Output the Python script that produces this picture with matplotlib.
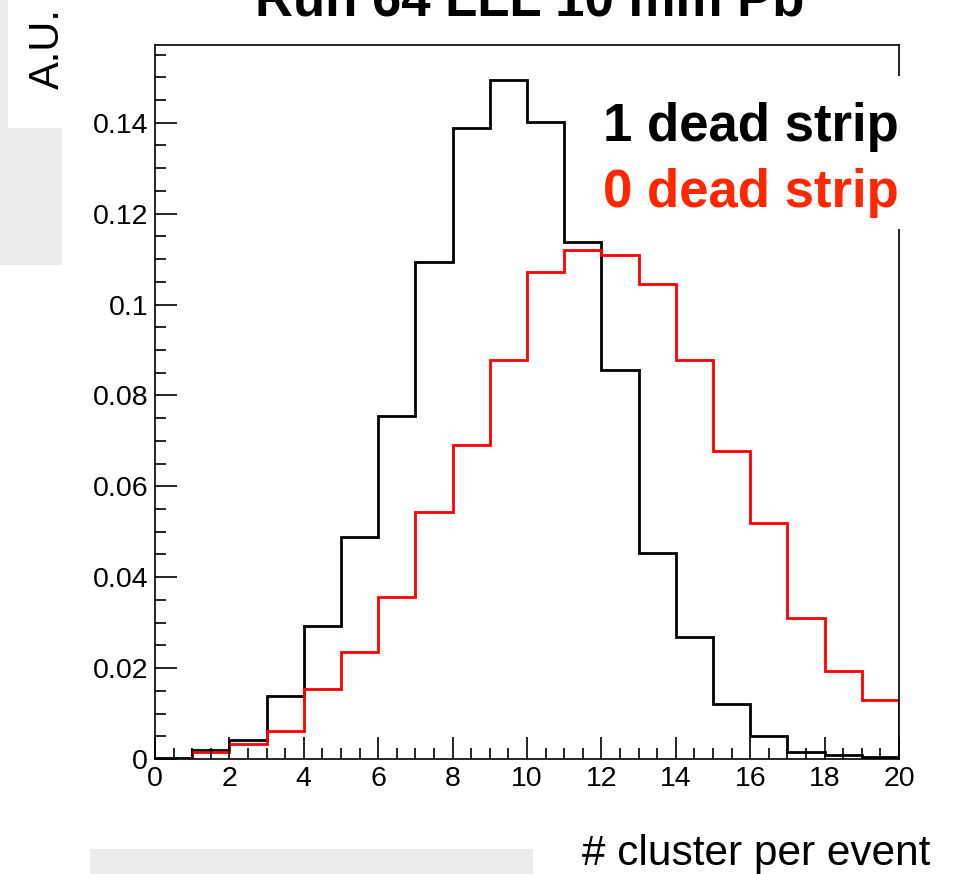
import numpy as np
import matplotlib
matplotlib.use("Agg")
import matplotlib.pyplot as plt
from matplotlib.patches import Rectangle
from matplotlib.ticker import MultipleLocator, FuncFormatter

# ---- data ----
bin_edges = list(range(0, 21))
one_dead = [0.0002, 0.0020, 0.0041, 0.0139, 0.0293, 0.0488, 0.0755, 0.1094, 0.1388, 0.1494,
            0.1402, 0.1137, 0.0856, 0.0453, 0.0268, 0.0121, 0.0051, 0.0016, 0.0008, 0.0004]
zero_dead = [0.0001, 0.0016, 0.0033, 0.0061, 0.0155, 0.0235, 0.0356, 0.0543, 0.0691, 0.0878,
             0.1071, 0.1119, 0.1110, 0.1046, 0.0878, 0.0678, 0.0519, 0.0310, 0.0194, 0.0129]
labels = ["1 dead strip", "0 dead strip"]
title = "Run 64 LLL 10 mm Pb"
xlabel = "# cluster per event"
ylabel = "A.U."

plt.rcParams['font.family'] = ['Liberation Sans', 'DejaVu Sans']

W, H = 966, 874
fig = plt.figure(figsize=(W / 100, H / 100), dpi=100)
fig.patch.set_facecolor('white')

# background decorations (gray blocks)
gray = '#ebebeb'
fig.patches.append(Rectangle((0, 1 - 128 / H), 8 / W, 128 / H, transform=fig.transFigure,
                             facecolor=gray, edgecolor='none', zorder=0))
fig.patches.append(Rectangle((0, 1 - 265 / H), 62 / W, 137 / H, transform=fig.transFigure,
                             facecolor=gray, edgecolor='none', zorder=0))
fig.patches.append(Rectangle((90 / W, 0), 443 / W, 25 / H, transform=fig.transFigure,
                             facecolor=gray, edgecolor='none', zorder=0))

left, right, top, bottom = 155, 899, 45, 759
ax = fig.add_axes([left / W, 1 - bottom / H, (right - left) / W, (bottom - top) / H])
ax.set_facecolor('none')

ax.stairs(one_dead, bin_edges, color='black', linewidth=2.0, baseline=0)
ax.stairs(zero_dead, bin_edges, color='#ff0000', linewidth=2.0, baseline=0)

ax.set_xlim(0, 20)
ax.set_ylim(0, 0.1571)

ax.xaxis.set_major_locator(MultipleLocator(2))
ax.xaxis.set_minor_locator(MultipleLocator(0.5))
ax.yaxis.set_major_locator(MultipleLocator(0.02))
ax.yaxis.set_minor_locator(MultipleLocator(0.005))
ax.yaxis.set_major_formatter(FuncFormatter(lambda v, p: '%g' % round(v, 4)))
ax.xaxis.set_major_formatter(FuncFormatter(lambda v, p: '%g' % v))

ax.tick_params(axis='both', which='both', direction='in', top=False, right=False,
               width=1.2, colors='black', labelsize=20.5)
ax.tick_params(axis='both', which='major', length=15.5)
ax.tick_params(axis='both', which='minor', length=7.7)
ax.tick_params(axis='x', which='major', pad=5)
ax.tick_params(axis='y', which='major', pad=5)
for s in ax.spines.values():
    s.set_linewidth(1.2)

# legend box hiding part of the frame
fig.patches.append(Rectangle((575 / W, 1 - 229 / H), 340 / W, 153 / H, transform=fig.transFigure,
                             facecolor='white', edgecolor='none', zorder=10))
fig.text(603 / W, 1 - 141 / H, labels[0], color='black', fontsize=38, fontweight='bold',
         ha='left', va='baseline', zorder=11)
fig.text(603 / W, 1 - 207 / H, labels[1], color='#ff2600', fontsize=38, fontweight='bold',
         ha='left', va='baseline', zorder=11)

# title (partly cut off at the top, as in the reference)
fig.text(530 / W, 1 - 15 / H, title, fontsize=38, fontweight='bold', ha='center', va='baseline')

# axis titles
fig.text(930 / W, 1 - 865 / H, xlabel, fontsize=30.5, ha='right', va='baseline')
fig.text(48 / W, 1 - 89 / H, ylabel, fontsize=30, rotation=90, ha='center', va='bottom')

fig.savefig('out.png', dpi=100, facecolor='white')
